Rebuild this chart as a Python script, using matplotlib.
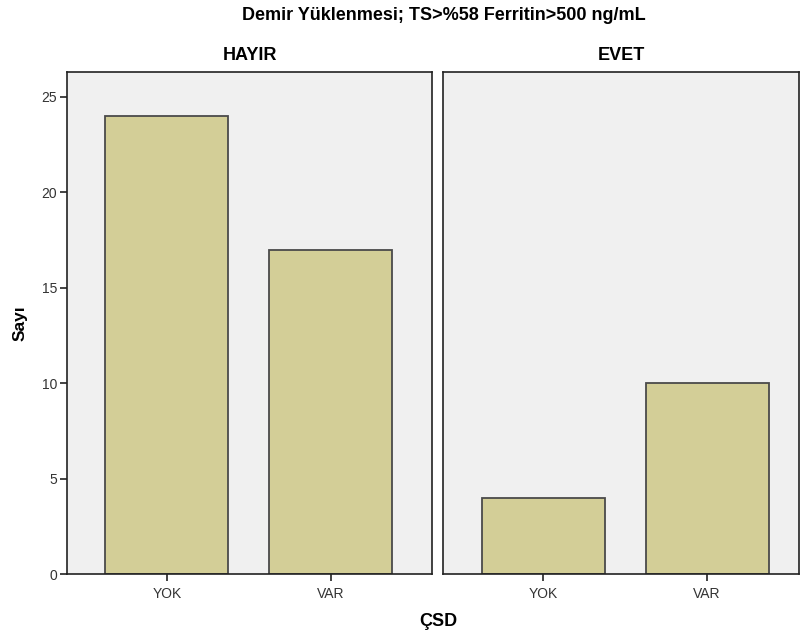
import matplotlib
matplotlib.use("Agg")
import matplotlib.pyplot as plt
from matplotlib.transforms import offset_copy

plt.rcParams['font.family'] = ['Liberation Sans', 'DejaVu Sans']

title = "Demir Yüklenmesi; TS>%58 Ferritin>500 ng/mL"
panels = ["HAYIR", "EVET"]
categories = ["YOK", "VAR"]
counts = {"HAYIR": [24, 17], "EVET": [4, 10]}
yticks = [0, 5, 10, 15, 20, 25]
xlabel = "ÇSD"
ylabel = "Sayı"

fig = plt.figure(figsize=(8.02, 6.39), dpi=100)
W, H = 802, 639
lefts = [67, 443]
rights = [432, 799]
xlims = [(-0.61, 1.62), (-0.61, 1.56)]
top, bottom = 72, 574
for i, p in enumerate(panels):
    ax = fig.add_axes([lefts[i] / W, 1 - bottom / H, (rights[i] - lefts[i]) / W, (bottom - top) / H])
    ax.set_facecolor('#F0F0F0')
    ax.bar(range(len(categories)), counts[p], width=0.75, color='#D3CE97',
           edgecolor='#4A4A4A', linewidth=1.3, zorder=2)
    ax.set_xlim(*xlims[i])
    ax.set_ylim(0, 26.3)
    ax.set_xticks(range(len(categories)))
    ax.set_xticklabels(categories, fontsize=10, color='#333333')
    ax.tick_params(axis='x', length=5, width=1.2, direction='out', pad=4, color='#222222')
    for s in ax.spines.values():
        s.set_color('#222222')
        s.set_linewidth(1.2)
    if i == 0:
        ax.set_yticks(yticks)
        ax.tick_params(axis='y', length=5, width=1.2, direction='out', labelsize=10,
                       pad=2, labelcolor='#333333', color='#222222')
        ax.set_ylabel(ylabel, fontsize=12.5, fontweight='bold')
        ax.yaxis.set_label_coords(-0.107, 0.5)
    else:
        ax.set_yticks([])
    tr = offset_copy(ax.transAxes, fig=fig, x=0, y=8, units='dots')
    ax.text(0.5, 1.0, p, transform=tr, ha='center', va='bottom',
            fontsize=13, fontweight='bold')

fig.text(444 / W, 1 - 16 / H, title, ha='center', va='center', fontsize=13, fontweight='bold')
fig.text(438 / W, 1 - 622 / H, xlabel, ha='center', va='center', fontsize=13, fontweight='bold')

fig.savefig("out.png", dpi=100)
